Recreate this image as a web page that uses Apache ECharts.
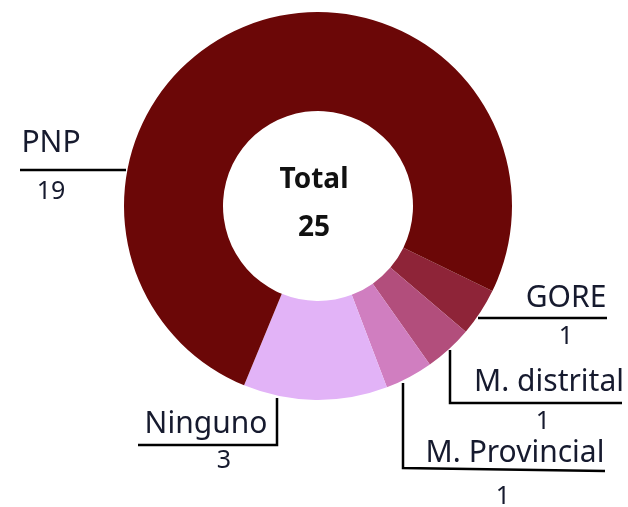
<!DOCTYPE html>
<html>
<head>
<meta charset="utf-8">
<script src="https://cdn.jsdelivr.net/npm/echarts@6/dist/echarts.min.js"></script>
<style>
  html, body { margin: 0; padding: 0; background: #fff; }
  #chart { width: 628px; height: 507px; }
</style>
</head>
<body>
<div id="chart"></div>
<script>
// categories and values, in clockwise order starting at the GORE slice
var categories = ['GORE', 'M. distrital', 'M. Provincial', 'Ninguno', 'PNP']
var values = [1, 1, 1, 3, 19]
var colors = ['#8e2438', '#b24e7c', '#d07ec0', '#e2b3f7', '#6b0707']

// label placement: text centre x, leader line y, gap above/below line, value shift, line points
var labelPos = [
  { x: 566, lineY: 318, up: 20, down: 19, dx: 0, line: [[478, 318], [607, 318]] },
  { x: 549, lineY: 403, up: 21, down: 19, dx: -6, line: [[450, 350], [450, 403], [622, 403]] },
  { x: 515, lineY: 471, up: 18, down: 26, dx: -12, line: [[403, 383], [403, 468], [605, 471]] },
  { x: 206, lineY: 445, up: 21, down: 16, dx: 18, line: [[277, 398], [277, 445], [138, 445]] },
  { x: 51, lineY: 170, up: 27, down: 22, dx: 0, line: [[126, 170], [20, 170]] }
]

var total = values.reduce(function (a, b) { return a + b }, 0)

var chart = echarts.init(document.getElementById('chart'))
chart.setOption({
  animation: false,
  textStyle: { fontFamily: 'Noto Sans' },
  graphic: [{
    type: 'text',
    left: 'center',
    top: 166,
    style: { text: 'Total', font: 'bold 28px "Noto Sans"', fill: '#111' }
  }, {
    type: 'text',
    left: 'center',
    top: 214,
    style: { text: String(total), font: 'bold 28px "Noto Sans"', fill: '#111' }
  }],
  series: [{
    type: 'pie',
    center: [318, 206],
    radius: [95, 194],
    startAngle: -26,
    clockwise: true,
    avoidLabelOverlap: false,
    data: categories.map(function (c, i) {
      var p = labelPos[i]
      return {
        name: c,
        value: values[i],
        itemStyle: { color: colors[i] },
        label: {
          rich: {
            n: { lineHeight: p.up * 2 },
            v: {
              lineHeight: p.down * 2,
              padding: p.dx >= 0 ? [0, 0, 0, p.dx * 2] : [0, -p.dx * 2, 0, 0]
            }
          }
        }
      }
    }),
    label: {
      show: true,
      position: 'outside',
      formatter: '{n|{b}}\n{v|{c}}',
      color: '#161a2e',
      rich: {
        n: { fontSize: 30, color: '#161a2e', fontFamily: 'Noto Sans' },
        v: { fontSize: 25, color: '#161a2e', fontFamily: 'Noto Sans' }
      }
    },
    labelLine: {
      show: true,
      lineStyle: { color: '#000', width: 2.5 }
    },
    labelLayout: function (params) {
      var p = labelPos[params.dataIndex]
      return {
        x: p.x,
        y: p.lineY - p.up * 2,
        align: 'center',
        verticalAlign: 'top',
        labelLinePoints: p.line
      }
    }
  }]
})
</script>
</body>
</html>
